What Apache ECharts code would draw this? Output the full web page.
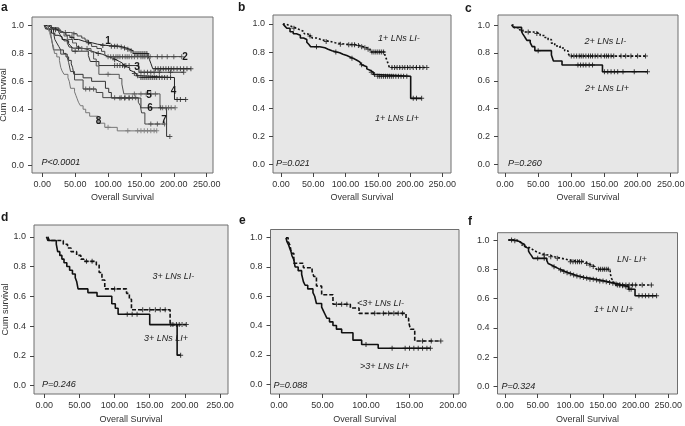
<!DOCTYPE html>
<html><head><meta charset="utf-8">
<script src="https://cdn.jsdelivr.net/npm/echarts@6/dist/echarts.min.js"></script>
<style>html,body{margin:0;padding:0;background:#fff}#c{width:685px;height:426px}</style>
</head><body><div id="c"></div>
<script>
// ---------- tick labels ----------
const xTicks = [0, 50, 100, 150, 200, 250];
const xTicksE = [0, 50, 100, 150, 200];
const yTicks = [0, 0.2, 0.4, 0.6, 0.8, 1.0];

// ---------- Kaplan-Meier curves: [time, cumulative survival] at each step, last point = end of follow-up ----------
const b_LIneg = [[3,1.0],[8,0.99],[12,0.98],[18,0.97],[24,0.957],[30,0.945],[36,0.93],[42,0.915],[48,0.90],[55,0.886],[64,0.876],[76,0.866],[84,0.856],[100,0.852],[117,0.846],[122,0.838],[128,0.83],[133,0.82],[138,0.80],[161,0.78],[163,0.755],[165,0.73],[168,0.69],[226,0.69]];
const b_LIneg_cens = [20,45,70,92,105,110,114,120,125,130,135,141,144,147,150,153,156,159,172,176,180,184,188,192,196,200,205,210,215,220,226];
const b_LIpos = [[3,1.0],[6,0.985],[9,0.97],[14,0.945],[19,0.93],[24,0.92],[30,0.90],[35,0.89],[40,0.87],[43,0.855],[46,0.838],[60,0.83],[68,0.82],[73,0.81],[79,0.80],[86,0.795],[91,0.785],[96,0.775],[102,0.765],[107,0.755],[112,0.743],[117,0.73],[122,0.72],[125,0.71],[128,0.696],[133,0.68],[136,0.668],[139,0.656],[143,0.64],[148,0.627],[201,0.47],[218,0.47]];
const b_LIpos_cens = [55,85,110,125,140,145,150,153,156,159,162,165,168,171,174,178,182,186,190,195,205,210,218];

const c_LIneg = [[10,1.0],[14,0.98],[22,0.965],[27,0.95],[43,0.94],[53,0.925],[60,0.91],[65,0.895],[70,0.87],[75,0.85],[83,0.835],[90,0.815],[95,0.795],[98,0.777],[212,0.777]];
const c_LIneg_cens = [35,48,100,104,108,112,115,118,122,126,129,132,136,140,145,150,153,156,160,164,175,182,190,200,212];
const c_LIpos = [[10,1.0],[13,0.983],[25,0.952],[27,0.935],[29,0.92],[31,0.905],[33,0.89],[38,0.873],[41,0.845],[45,0.816],[70,0.785],[73,0.742],[86,0.713],[147,0.665],[215,0.665]];
const c_LIpos_cens = [50,110,114,118,122,127,132,150,155,160,165,170,178,195,215];

const d_LIneg = [[5,1.0],[7,0.975],[27,0.95],[33,0.925],[38,0.90],[46,0.875],[52,0.85],[56,0.835],[74,0.81],[78,0.76],[82,0.71],[86,0.65],[117,0.62],[121,0.58],[124,0.51],[179,0.41],[202,0.41]];
const d_LIneg_cens = [60,68,100,140,150,158,165,172,183,188,192,196,202];
const d_LIpos = [[3,1.0],[5,0.975],[17,0.95],[19,0.90],[22,0.875],[25,0.85],[28,0.825],[32,0.80],[36,0.775],[40,0.75],[44,0.725],[46,0.70],[48,0.65],[62,0.625],[75,0.60],[96,0.55],[101,0.52],[105,0.48],[150,0.41],[189,0.205],[194,0.205]];
const d_LIpos_cens = [118,125,132,180,194];

const e_LIneg = [[8,1.0],[10.5,0.975],[12.5,0.95],[13.5,0.92],[14.5,0.893],[17,0.825],[28,0.795],[38,0.77],[40,0.735],[43,0.67],[49,0.61],[62,0.545],[82,0.52],[92,0.483],[146,0.45],[149,0.426],[151,0.374],[156,0.294],[186,0.294]];
const e_LIneg_cens = [66,72,78,110,120,126,132,137,142,165,175,186];
const e_LIpos = [[8,1.0],[9,0.975],[11,0.95],[12.5,0.925],[14,0.90],[15,0.875],[17,0.85],[18.5,0.80],[22,0.775],[26,0.75],[28,0.70],[30,0.675],[33,0.65],[39,0.625],[41,0.60],[43,0.55],[49,0.525],[51,0.50],[53,0.475],[55,0.45],[58,0.425],[62,0.40],[66,0.375],[72,0.35],[85,0.30],[95,0.27],[114,0.245],[174,0.245]];
const e_LIpos_cens = [100,130,145,150,155,160,165,170,174];

const f_LNneg = [[5,1.0],[18,0.99],[22,0.98],[25.5,0.966],[30,0.955],[33,0.948],[38,0.936],[42,0.925],[46,0.914],[51,0.905],[56,0.898],[66,0.886],[76,0.875],[87,0.864],[97,0.852],[122,0.84],[127,0.83],[132,0.82],[137,0.81],[140,0.80],[161,0.773],[163,0.739],[166,0.716],[168,0.693],[224,0.693]];
const f_LNneg_cens = [10,60,70,80,100,104,108,111,114,117,125,130,135,143,146,149,152,155,158,172,176,180,185,190,195,200,210,224];
const f_LNpos = [[5,1.0],[12,0.995],[18,0.99],[22,0.98],[25.5,0.97],[30,0.955],[33,0.943],[36,0.925],[38,0.909],[41,0.89],[43,0.875],[64,0.86],[66,0.84],[68,0.83],[71,0.818],[76,0.805],[82,0.795],[87,0.785],[92,0.777],[97,0.77],[102,0.761],[107,0.755],[112,0.75],[117,0.745],[122,0.739],[130,0.733],[138,0.727],[145,0.72],[153,0.716],[158,0.71],[163,0.705],[168,0.70],[174,0.693],[178,0.688],[184,0.682],[189,0.664],[199,0.62],[232,0.62]];
const f_LNpos_cens = [15,50,60,75,85,90,95,100,105,110,115,120,125,130,135,140,145,150,155,160,165,170,175,180,185,190,193,205,210,215,220,226,232];

// ---------- texts ----------
const panelLetters = ['a','b','c','d','e','f'];
const pValues = ['P<0.0001','P=0.021','P=0.260','P=0.246','P=0.088','P=0.324'];
const groupLabels = ['1+ LNs LI-','1+ LNs LI+','2+ LNs LI-','2+ LNs LI+','3+ LNs LI-','3+ LNs LI+','<3+ LNs LI-','>3+ LNs LI+','LN- LI+','1+ LN LI+'];
const curveNumbers = ['1','2','3','4','5','6','7','8'];
const xName = 'Overall Survival';
const yNames = ['Cum Survival','Cum survival'];

// ---------- layout ----------
const FONT = '"Liberation Sans", Arial, sans-serif';
const panels = [
  {l:32,  t:17,    w:181, h:156,  x:[-15.7,259.6], y:[-0.057,1.061], xt:xTicks,  nameGap:20, yName:yNames[0], yGap:18},
  {l:273, t:15,    w:178, h:158,  x:[-12.4,263.5], y:[-0.062,1.064], xt:xTicks,  nameGap:20},
  {l:498, t:15,    w:180, h:158,  x:[-10.6,261],   y:[-0.062,1.072], xt:xTicks,  nameGap:20},
  {l:34,  t:225,   w:194, h:169,  x:[-14.7,261.4], y:[-0.056,1.079], xt:xTicks,  nameGap:21, yName:yNames[1], yGap:22},
  {l:270.5,t:229.5,w:188.5,h:164.5,x:[-9.8,206.9],  y:[-0.068,1.056], xt:xTicksE, nameGap:21},
  {l:497.5,t:232.7,w:180, h:161.3,x:[-11.5,264],   y:[-0.05,1.05],   xt:xTicks,  nameGap:21}
];

function survAt(curve, t) {
  let s = curve[0][1];
  for (const p of curve) { if (p[0] <= t) s = p[1]; }
  return s;
}
const PLUS = 'path://M4,0H6V4H10V6H6V10H4V6H0V4H4Z';
const series = [];
function km(curve, cens, g, color, width, type) {
  series.push({type:'line', xAxisIndex:g, yAxisIndex:g, data:curve, step:'end', symbol:'none',
    lineStyle:{color:color, width:width, type:type || 'solid'}, silent:true, z:2});
  series.push({type:'scatter', xAxisIndex:g, yAxisIndex:g, data:cens.map(t => [t, survAt(curve, t)]),
    symbol:PLUS, symbolSize:5, itemStyle:{color:color}, silent:true, z:3});
}
// panel a: all eight groups
const aCurves = [[b_LIneg,b_LIneg_cens,'#222'],[c_LIneg,c_LIneg_cens,'#444'],[c_LIpos,c_LIpos_cens,'#333'],[b_LIpos,b_LIpos_cens,'#222'],
                 [d_LIneg,d_LIneg_cens,'#555'],[d_LIpos,d_LIpos_cens,'#333'],[e_LIneg,e_LIneg_cens,'#444'],[e_LIpos,e_LIpos_cens,'#777']];
aCurves.forEach(c => km(c[0], c[1], 0, c[2], 1));
const DOT = [2,2], DASH = [4,2];
km(b_LIneg, b_LIneg_cens, 1, '#111', 1.6, DOT);
km(b_LIpos, b_LIpos_cens, 1, '#111', 1.6);
km(c_LIneg, c_LIneg_cens, 2, '#111', 1.6, DOT);
km(c_LIpos, c_LIpos_cens, 2, '#111', 1.6);
km(d_LIneg, d_LIneg_cens, 3, '#111', 1.6, DASH);
km(d_LIpos, d_LIpos_cens, 3, '#111', 1.6);
km(e_LIneg, e_LIneg_cens, 4, '#111', 1.6, DASH);
km(e_LIpos, e_LIpos_cens, 4, '#111', 1.6);
km(f_LNneg, f_LNneg_cens, 5, '#111', 1.6, DOT);
km(f_LNpos, f_LNpos_cens, 5, '#111', 1.6);

const labelStyle = {fontSize:9, color:'#333', fontFamily:FONT};
const grid = [], xAxis = [], yAxis = [];
panels.forEach((p, i) => {
  grid.push({left:p.l, top:p.t, width:p.w, height:p.h, show:true, backgroundColor:'#e7e7e7',
             borderColor:'#6e6e6e', borderWidth:1, containLabel:false, outerBoundsMode:'none'});
  xAxis.push({gridIndex:i, type:'value', min:p.x[0], max:p.x[1], position:'bottom',
    axisLine:{show:false, onZero:false}, splitLine:{show:false},
    axisTick:{show:true, length:4, customValues:p.xt, lineStyle:{color:'#444'}},
    axisLabel:Object.assign({customValues:p.xt, margin:7, formatter:v => v.toFixed(2)}, labelStyle),
    name:xName, nameLocation:'middle', nameGap:p.nameGap, nameTextStyle:labelStyle});
  yAxis.push({gridIndex:i, type:'value', min:p.y[0], max:p.y[1], position:'left',
    axisLine:{show:false, onZero:false}, splitLine:{show:false},
    axisTick:{show:true, length:4, customValues:yTicks, lineStyle:{color:'#444'}},
    axisLabel:Object.assign({customValues:yTicks, margin:8, formatter:v => v.toFixed(1)}, labelStyle),
    name:p.yName || '', nameLocation:'middle', nameGap:p.yGap || 20, nameRotate:90, nameTextStyle:labelStyle});
});

// text graphics (pixel placement)
const g = [];
function txt(s, x, y, font, align) {
  g.push({type:'text', x:x, y:y, silent:true, z:10,
    style:{text:s, font:font, fill:'#1a1a1a', align:align || 'left', verticalAlign:'middle'}});
}
const letterPos = [[1,8],[238,8],[465,9],[1,218],[239,221],[468,222]];
panelLetters.forEach((s, i) => txt(s, letterPos[i][0], letterPos[i][1], 'bold 12px ' + FONT));
const pPos = [[41.5,162],[276,163],[508,163],[42,384.5],[273.5,385],[501.5,386]];
pValues.forEach((s, i) => txt(s, pPos[i][0], pPos[i][1], 'italic 9px ' + FONT));
const gPos = [[378,38.5],[375,118],[584.5,41.5],[585,88.5],[152.5,276],[144,338],[357,303.5],[360,366.5],[617,259.5],[594,309]];
groupLabels.forEach((s, i) => txt(s, gPos[i][0], gPos[i][1], 'italic 9px ' + FONT));
const nPos = [[108,41],[185,57],[137,67],[173.5,91],[149,95],[150,108.5],[164,120],[98.5,121]];
curveNumbers.forEach((s, i) => txt(s, nPos[i][0], nPos[i][1], 'bold 10px ' + FONT, 'center'));

const chart = echarts.init(document.getElementById('c'), null, {renderer:'canvas'});
chart.setOption({animation:false, backgroundColor:'#fff', grid:grid, xAxis:xAxis, yAxis:yAxis, series:series, graphic:g});
</script>
</body></html>
